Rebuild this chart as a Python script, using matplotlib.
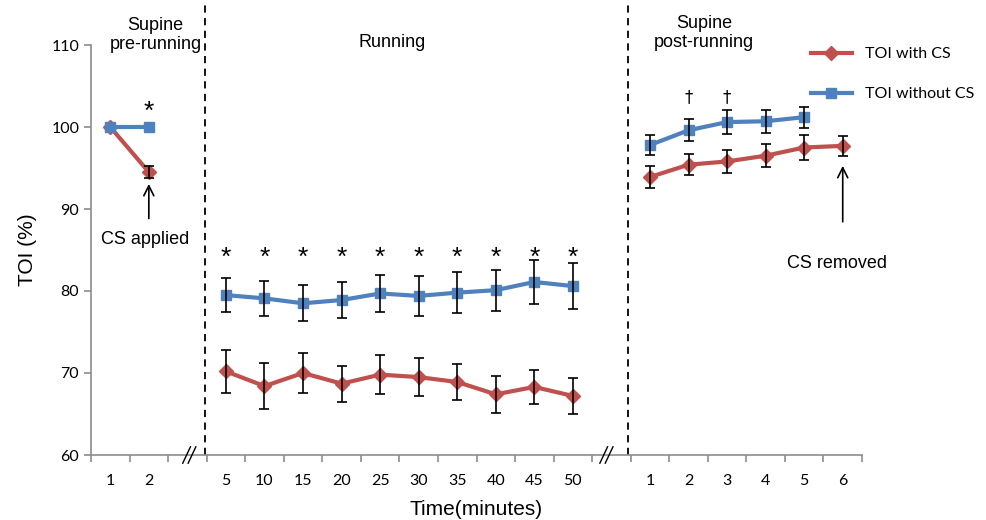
import numpy as np
import matplotlib
matplotlib.use("Agg")
import matplotlib.pyplot as plt

nan = np.nan
tick_labels = ["1", "2", "", "5", "10", "15", "20", "25", "30", "35", "40", "45", "50",
               "", "1", "2", "3", "4", "5", "6"]
toi_with_cs = [100.0, 94.5, nan, 70.2, 68.4, 70.0, 68.7, 69.8, 69.5, 68.9, 67.4, 68.3, 67.2,
               nan, 93.9, 95.4, 95.8, 96.5, 97.5, 97.7]
err_with_cs = [0.0, 0.7, nan, 2.6, 2.85, 2.4, 2.2, 2.35, 2.3, 2.25, 2.25, 2.1, 2.15,
               nan, 1.3, 1.3, 1.35, 1.4, 1.5, 1.25]
toi_without_cs = [100.0, 100.0, nan, 79.5, 79.1, 78.5, 78.9, 79.7, 79.4, 79.8, 80.1, 81.1, 80.6,
                  nan, 97.8, 99.6, 100.6, 100.7, 101.2, nan]
err_without_cs = [0.0, 0.0, nan, 2.1, 2.1, 2.2, 2.15, 2.2, 2.4, 2.5, 2.5, 2.65, 2.8,
                  nan, 1.2, 1.35, 1.45, 1.4, 1.3, nan]
star_idx = [1, 3, 4, 5, 6, 7, 8, 9, 10, 11, 12]
dagger_idx = [15, 16]

RED = "#C0504D"
BLUE = "#4F81BD"
GRAY = "#8C8C8C"
TICKFONT = "Lato"
TXTFONT = "Liberation Sans"

x = np.arange(len(tick_labels))
fig = plt.figure(figsize=(9.86, 5.2), dpi=100)
ax = fig.add_axes([91/986, 65/520, (862-91)/986, (455-45)/520])
ax.set_xlim(-0.5, len(tick_labels) - 0.5)
ax.set_ylim(60, 110)

wc = np.array(toi_with_cs); ec = np.array(err_with_cs)
wo = np.array(toi_without_cs); eo = np.array(err_without_cs)

l1, = ax.plot(x, wc, color=RED, lw=3, marker="D", ms=7, zorder=3, label="TOI with CS")
l2, = ax.plot(x, wo, color=BLUE, lw=3, marker="s", ms=7, zorder=3, label="TOI without CS")
m1 = ~np.isnan(wc) & (np.nan_to_num(ec) > 0)
m2 = ~np.isnan(wo) & (np.nan_to_num(eo) > 0)
ax.errorbar(x[m1], wc[m1], yerr=ec[m1], fmt="none", ecolor="black", elinewidth=1.2,
            capsize=3.5, capthick=1.2, zorder=4)
ax.errorbar(x[m2], wo[m2], yerr=eo[m2], fmt="none", ecolor="black", elinewidth=1.2,
            capsize=3.5, capthick=1.2, zorder=4)

# spines & ticks
for s in ["top", "right"]:
    ax.spines[s].set_visible(False)
for s in ["left", "bottom"]:
    ax.spines[s].set_color(GRAY)
    ax.spines[s].set_linewidth(1.2)
ax.set_xticks(x)
ax.set_xticklabels(tick_labels, fontfamily=TICKFONT, fontsize=11.5)
ax.set_xticks(np.arange(-0.5, len(tick_labels)), minor=True)
ax.tick_params(axis="x", which="major", length=0, pad=14)
ax.tick_params(axis="x", which="minor", length=5, color=GRAY, width=1.2)
ax.set_yticks([60, 70, 80, 90, 100, 110])
ax.set_yticklabels(["60", "70", "80", "90", "100", "110"], fontfamily=TICKFONT, fontsize=11.5)
ax.tick_params(axis="y", length=5, color=GRAY, width=1.2)

ax.set_ylabel("TOI (%)", fontfamily=TXTFONT, fontsize=15, labelpad=10)
ax.set_xlabel("Time(minutes)", fontfamily=TXTFONT, fontsize=15, labelpad=8)

# section dividers
for xd in [2.46, 13.42]:
    ax.plot([xd, xd], [60, 115], color="black", ls=(0, (4, 3)), lw=1.3, clip_on=False, zorder=2)

# axis break marks
for xb in [2.05, 12.87]:
    for dx in [-0.07, 0.07]:
        ax.plot([xb + dx - 0.1, xb + dx + 0.1], [59.0, 61.0], color="black", lw=1,
                clip_on=False, zorder=5)

# significance markers
for i in star_idx:
    yy = 84.0 if i >= 3 else 101.8
    ax.text(x[i], yy, "*", ha="center", va="center", fontsize=19, fontfamily=TXTFONT)
for i in dagger_idx:
    ax.text(x[i], 103.6, "\u2020", ha="center", va="center", fontsize=12, fontfamily="DejaVu Sans")

# section labels
ax.text(1.17, 111.2, "Supine\npre-running", ha="center", va="center", fontsize=13,
        fontfamily=TXTFONT, linespacing=1.15)
ax.text(7.3, 110.3, "Running", ha="center", va="center", fontsize=13, fontfamily=TXTFONT)
ax.text(15.4, 111.5, "Supine\npost-running", ha="center", va="center", fontsize=13,
        fontfamily=TXTFONT, linespacing=1.15)

# arrows & annotations
ax.annotate("", xy=(1, 93.4), xytext=(1, 88.5),
            arrowprops=dict(arrowstyle="->", color="black", lw=1.2, mutation_scale=18))
ax.text(0.9, 86.3, "CS applied", ha="center", va="center", fontsize=13, fontfamily=TXTFONT)
ax.annotate("", xy=(19, 95.6), xytext=(19, 88.1),
            arrowprops=dict(arrowstyle="->", color="black", lw=1.2, mutation_scale=18))
ax.text(18.85, 83.4, "CS removed", ha="center", va="center", fontsize=13, fontfamily=TXTFONT)

leg = ax.legend(handles=[l1, l2], loc="upper left", bbox_to_anchor=(0.925, 1.01),
                frameon=False, handlelength=2.6, labelspacing=1.6,
                prop={"family": TICKFONT, "size": 11.5}, borderaxespad=0)
leg.set_clip_on(False)

fig.savefig("out.png", dpi=100)
